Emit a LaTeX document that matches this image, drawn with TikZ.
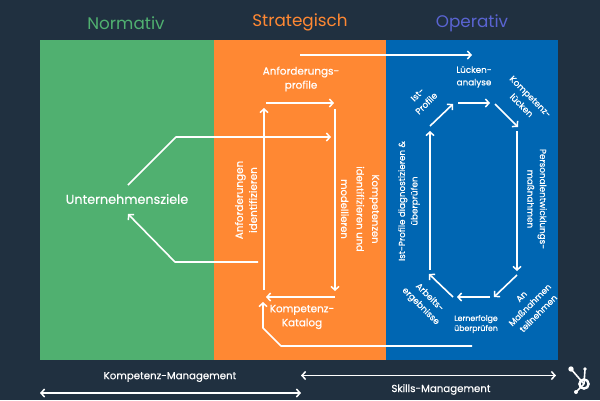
\documentclass[tikz,border=0pt]{standalone}
\usepackage{fontspec}
\setmainfont{Poppins}[RawFeature={embolden=0.5}]
\newfontfamily\titlefont{Poppins}
\usetikzlibrary{arrows.meta}
\definecolor{bgdark}{HTML}{203040}
\definecolor{normgreen}{HTML}{50B070}
\definecolor{stratorange}{HTML}{FF8833}
\definecolor{opblue}{HTML}{0066B2}
\definecolor{opviolet}{HTML}{5A64D2}
\tikzset{
  barb/.tip={Straight Barb[length=3.6pt,width=8pt,line width=1.5pt]},
  flow/.style={draw=white, line width=1.6pt, line join=round, -barb},
  span/.style={draw=white, line width=1.6pt, barb-barb},
  lbl/.style={text=white, align=center, font=\fontsize{10.4}{14}\selectfont, inner sep=0pt},
  small/.style={lbl, font=\fontsize{8.8}{12.5}\selectfont},
  title/.style={font=\titlefont\fontsize{16.8}{20}\selectfont, inner sep=0pt}
}
\begin{document}
\begin{tikzpicture}[x=1pt, y=-1pt]
  \useasboundingbox (0,0) rectangle (600,400);
  \fill[bgdark] (0,0) rectangle (600,400);
  % the three columns
  \fill[normgreen] (40,40) rectangle (214,360);
  \fill[stratorange] (214,40) rectangle (386,360);
  \fill[opblue] (386,40) rectangle (558,360);
  \node[title, text=normgreen] (normativ) at (126,23) {Normativ};
  \node[title, text=stratorange] (strategisch) at (300,22) {Strategisch};
  \node[title, text=opviolet] (operativ) at (472,23) {Operativ};

  % labels
  \node[lbl, font=\fontsize{12.8}{14}\selectfont] (ziele) at (127,199) {Unternehmensziele};
  \node[lbl] (profile) at (301,79) {Anforderungs-\\profile};
  \node[lbl] (katalog) at (302,317) {Kompetenz-\\Katalog};
  \node[lbl, rotate=90] (identifizieren) at (246,200) {Anforderungen\\identifizieren};
  \node[lbl, font=\fontsize{10}{15.5}\selectfont, rotate=-90] (modellieren) at (360,209) {Kompetenzen\\identifizieren und\\modellieren};
  \node[small] (analyse) at (474,77) {Lücken-\\analyse};
  \node[small, rotate=45] (istprofile) at (422,99) {Ist-\\Profile};
  \node[small, rotate=-45] (luecken) at (526,101) {Kompetenz-\\lücken};
  \node[small, rotate=-90] (massnahmen) at (537,199) {Personalentwicklungs-\\maßnahmen};
  \node[small, rotate=90] (diagnose) at (409,201) {Ist-Profile diagnostizieren \&\\überprüfen};
  \node[small, rotate=-45] (ergebnisse) at (425,302) {Arbeits-\\ergebnisse};
  \node[small, font=\fontsize{7.8}{10}\selectfont] (lernerfolge) at (476,324) {Lernerfolge\\überprüfen};
  \node[small, font=\fontsize{8.6}{12}\selectfont, rotate=45] (teilnehmen) at (530,305) {An\\Maßnahmen\\teilnehmen};
  \node[small, font=\fontsize{10.2}{10}\selectfont] (kompmgmt) at (170,377) {Kompetenz-Management};
  \node[small, font=\fontsize{10.2}{10}\selectfont] (skillmgmt) at (441,389.5) {Skills-Management};

  % free ends of the connectors
  \foreach \name/\px/\py in {a1/300/55, a2/472/55, b1/266/103, b2/334/103, c1/264/290, c2/264/108,
      d1/335/109, d2/335/291, e1/335/297, e2/266/297, f1/472/346, f2/281/346, f3/263/328, f4/263/302,
      g1/128/185, g2/176/137, g3/331/137, h1/258/262, h2/175/262, h3/128/214,
      l1/430/126, l2/453/104, l3/458/103, l4/490/103, l5/495/104, l6/518/127, l7/517/131, l8/517/271,
      l9/517/275, l10/494/297, l11/490/297, l12/457/297, l13/453/297, l14/429/274, l15/430/270, l16/430/131,
      m1/40/393, m2/301/393, s1/301/375.5, s2/556/375.5}
    \coordinate (\name) at (\px,\py);

  % strategic block and long runs
  \draw[flow] (a1) -- (a2);
  \draw[flow] (b1) -- (b2);
  \draw[flow] (c1) -- (c2);
  \draw[flow] (d1) -- (d2);
  \draw[flow] (e1) -- (e2);
  \draw[flow] (f1) -- (f2) -- (f3) -- (f4);
  \draw[flow] (g1) -- (g2) -- (g3);
  \draw[flow] (h1) -- (h2) -- (h3);

  % operative cycle
  \foreach \from/\to in {l1/l2, l3/l4, l5/l6, l7/l8, l9/l10, l11/l12, l13/l14, l15/l16}
    \draw[flow] (\from) -- (\to);

  \draw[span] (m1) -- (m2);
  \draw[span] (s1) -- (s2);

  % sprocket in the corner
  \coordinate (hub) at (584,384);
  \coordinate (spokea) at (571,369);
  \coordinate (spokeb) at (585,369);
  \coordinate (spokec) at (576,392);
  \draw[white, line width=2.4pt] (hub) circle (4.6);
  \draw[white, line width=1.6pt] (hub) -- (spokea);
  \draw[white, line width=1.6pt] (hub) -- (spokeb);
  \draw[white, line width=1.6pt] (hub) -- (spokec);
  \fill[white] (spokea) circle (2.7) (spokeb) circle (1.9) (spokec) circle (2);
\end{tikzpicture}
\end{document}
